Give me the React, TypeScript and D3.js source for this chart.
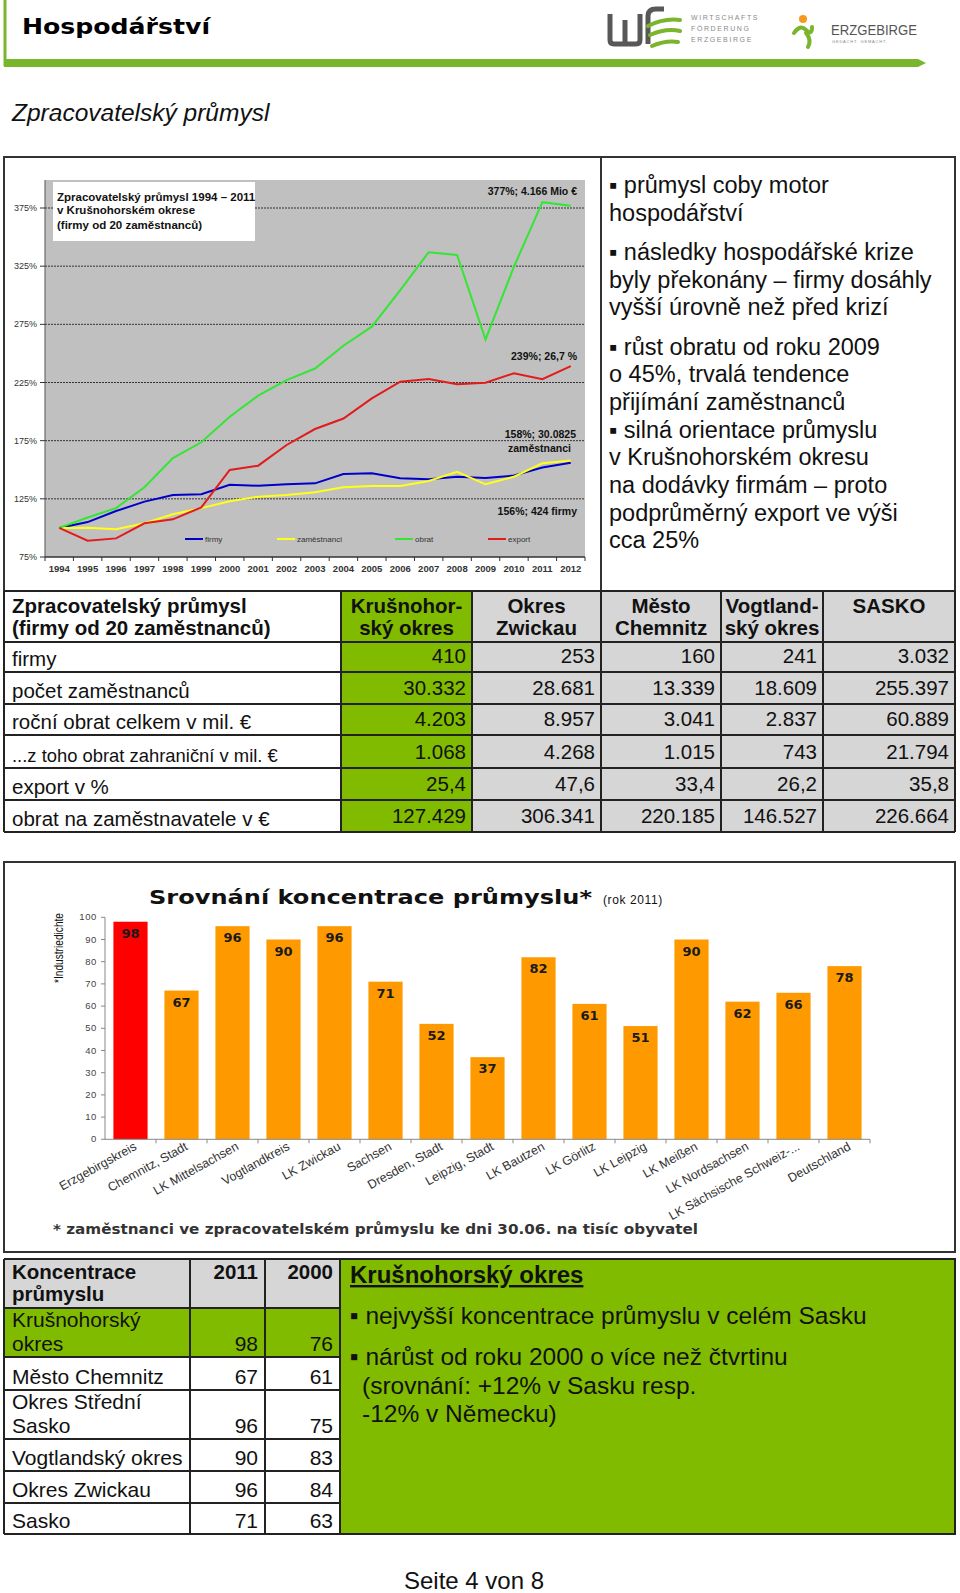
import * as d3 from "d3";
import React from "react";

// ---- line chart data (index 1994 = 100 %)
const years = ["1994", "1995", "1996", "1997", "1998", "1999", "2000", "2001", "2002", "2003", "2004", "2005", "2006", "2007", "2008", "2009", "2010", "2011", "2012"];
const firmy = [100, 105, 114.5, 122.6, 128.3, 129, 137, 136.3, 137.5, 138.3, 146.3, 147, 142.6, 141.8, 144, 143, 145, 152, 156];
const zamestnanci = [100, 100.2, 98.8, 104, 111.7, 117, 123, 126.8, 128.3, 130.6, 135, 136, 136, 140.3, 148.3, 137.5, 144, 155.5, 158];
const obrat = [100, 109, 117, 135, 160, 173.6, 195.6, 213.7, 227, 237, 256.6, 273, 304.5, 337, 334.6, 262, 324.5, 380, 377];
const exportPct = [100, 89, 91, 104, 107.4, 117.7, 149.8, 153.5, 171.3, 185, 194, 211.4, 225.7, 228, 223.5, 224.8, 233, 227.8, 239];
const lineTicks = [75, 125, 175, 225, 275, 325, 375];

// ---- table 1
const t1Header = [["Krušnohor-", "ský okres"], ["Okres", "Zwickau"], ["Město", "Chemnitz"], ["Vogtland-", "ský okres"], ["SASKO"]];
const t1Labels = ["firmy", "počet zaměstnanců", "roční obrat celkem v mil. €", "...z toho obrat zahraniční v mil. €", "export v %", "obrat na zaměstnavatele v €"];
const t1Values = [
  ["410", "253", "160", "241", "3.032"],
  ["30.332", "28.681", "13.339", "18.609", "255.397"],
  ["4.203", "8.957", "3.041", "2.837", "60.889"],
  ["1.068", "4.268", "1.015", "743", "21.794"],
  ["25,4", "47,6", "33,4", "26,2", "35,8"],
  ["127.429", "306.341", "220.185", "146.527", "226.664"],
];

// ---- bar chart
const regions = ["Erzgebirgskreis", "Chemnitz, Stadt", "LK Mittelsachsen", "Vogtlandkreis", "LK Zwickau", "Sachsen", "Dresden, Stadt", "Leipzig, Stadt", "LK Bautzen", "LK Görlitz", "LK Leipzig", "LK Meißen", "LK Nordsachsen", "LK Sächsische Schweiz-...", "Deutschland"];
const density = [98, 67, 96, 90, 96, 71, 52, 37, 82, 61, 51, 90, 62, 66, 78];
const barTicks = [0, 10, 20, 30, 40, 50, 60, 70, 80, 90, 100];

// ---- table 2
const t2Labels = [["Krušnohorský", "okres"], ["Město Chemnitz"], ["Okres Střední", "Sasko"], ["Vogtlandský okres"], ["Okres Zwickau"], ["Sasko"]];
const t2v2011 = [98, 67, 96, 90, 96, 71];
const t2v2000 = [76, 61, 75, 83, 84, 63];

const sans = "'Liberation Sans', Arial, sans-serif";
const bold = "'DejaVu Sans', Verdana, sans-serif";
const GREEN = "#80bb00";
const GRAY = "#d6d6d6";

function Header() {
  return (
    <g>
      <line x1={5} x2={5} y1={0} y2={66} stroke="#78b62b" strokeWidth={3} />
      <text x={22} y={34} fontFamily={bold} fontWeight="bold" fontSize={22} textLength={188} lengthAdjust="spacingAndGlyphs">Hospodářství</text>
      <polygon points="4,59 918,59 926,63 918,67 4,67" fill="#78b62b" />
      {/* wfe logo */}
      <path d="M610,14 V40 Q610,44 614,44 H636 Q640,44 640,40 V14 M625,20 V44" fill="none" stroke="#585858" strokeWidth={5} />
      <path d="M648,44 V16 Q648,9 656,9 H664" fill="none" stroke="#585858" strokeWidth={5} />
      <path d="M648,26 Q664,18 680,20 M650,35 Q666,28 680,31 M652,46 Q666,40 678,42" fill="none" stroke="#7ab52b" strokeWidth={4} strokeLinecap="round" />
      <g fontFamily={sans} fontSize={7} fill="#8a8a8a" letterSpacing={1.6}>
        <text x={691} y={20}>WIRTSCHAFTS</text>
        <text x={691} y={31}>FÖRDERUNG</text>
        <text x={691} y={42}>ERZGEBIRGE</text>
      </g>
      {/* Erzgebirge logo */}
      <circle cx={803} cy={19} r={4} fill="#f39a1f" />
      <path d="M794,33 Q800,24 806,30 Q812,36 812,27 M806,33 Q812,40 808,47" fill="none" stroke="#7ab52b" strokeWidth={4} strokeLinecap="round" />
      <text x={831} y={35} fontFamily={sans} fontSize={14} fill="#555" textLength={86} lengthAdjust="spacingAndGlyphs">ERZGEBIRGE</text>
      <text x={832} y={43} fontFamily={sans} fontSize={4} fill="#888" letterSpacing={0.8}>GEDACHT. GEMACHT.</text>
      <text x={12} y={121} fontFamily={sans} fontStyle="italic" fontSize={24.5} fill="#111">Zpracovatelský průmysl</text>
    </g>
  );
}

function LineChart() {
  const x = d3.scaleBand().domain(years).range([45, 585]);
  const y = d3.scaleLinear().domain([75, 375]).range([557, 208]);
  const cx = (yr: string) => (x(yr) || 0) + x.bandwidth() / 2;
  const line = d3.line<number>().x((_, i) => cx(years[i])).y((d) => y(d));
  const series = [
    { name: "firmy", data: firmy, color: "#0000c8" },
    { name: "zaměstnanci", data: zamestnanci, color: "#ffff1a" },
    { name: "obrat", data: obrat, color: "#33e633" },
    { name: "export", data: exportPct, color: "#e21b1b" },
  ];
  const legendX = [185, 277, 395, 488];
  return (
    <g>
      <rect x={45} y={180} width={540} height={377} fill="#c0c0c0" />
      {lineTicks.slice(1).map((t) => (
        <line key={t} x1={45} x2={585} y1={y(t)} y2={y(t)} stroke="#333" strokeDasharray="2,1" />
      ))}
      <line x1={45} x2={45} y1={180} y2={557} stroke="#555" />
      <line x1={45} x2={585} y1={557} y2={557} stroke="#333" strokeWidth={1.5} />
      {lineTicks.map((t) => (
        <g key={t}>
          <line x1={40} x2={45} y1={y(t)} y2={y(t)} stroke="#333" />
          <text x={37} y={y(t) + 3} textAnchor="end" fontFamily={sans} fontSize={9} fill="#333">{t}%</text>
        </g>
      ))}
      {years.map((yr) => (
        <g key={yr}>
          <line x1={x(yr) || 0} x2={x(yr) || 0} y1={557} y2={561} stroke="#333" />
          <text x={cx(yr)} y={572} textAnchor="middle" fontFamily={sans} fontSize={9.5} fontWeight="bold" fill="#333">{yr}</text>
        </g>
      ))}
      <line x1={585} x2={585} y1={557} y2={561} stroke="#333" />
      {series.map((s) => (
        <path key={s.name} d={line(s.data) || ""} fill="none" stroke={s.color} strokeWidth={2} />
      ))}
      {series.map((s, i) => (
        <g key={s.name}>
          <line x1={legendX[i]} x2={legendX[i] + 18} y1={539} y2={539} stroke={s.color} strokeWidth={2} />
          <text x={legendX[i] + 20} y={542} fontFamily={sans} fontSize={8} fill="#333">{s.name}</text>
        </g>
      ))}
      <rect x={53} y={182} width={202} height={59} fill="#fff" />
      <g fontFamily={sans} fontWeight="bold" fontSize={11.5} fill="#111">
        <text x={57} y={201}>Zpracovatelský průmysl 1994 – 2011</text>
        <text x={57} y={214}>v Krušnohorském okrese</text>
        <text x={57} y={229}>(firmy  od 20 zaměstnanců)</text>
      </g>
      <g fontFamily={sans} fontWeight="bold" fontSize={10.5} fill="#111" textAnchor="end">
        <text x={577} y={195}>377%;  4.166 Mio €</text>
        <text x={577} y={360}>239%;  26,7 %</text>
        <text x={576} y={438}>158%;  30.0825</text>
        <text x={571} y={452}>zaměstnanci</text>
        <text x={577} y={515}>156%;  424 firmy</text>
      </g>
    </g>
  );
}

const bullets = [
  "▪ průmysl coby motor", "hospodářství", null,
  "▪ následky hospodářské krize", "byly překonány – firmy dosáhly", "vyšší úrovně než před krizí", null,
  "▪ růst obratu od roku 2009", "o 45%, trvalá tendence", "přijímání zaměstnanců",
  "▪ silná orientace průmyslu", "v Krušnohorském okresu", "na dodávky firmám – proto",
  "podprůměrný export ve výši", "cca 25%",
];

function SideText() {
  let yy = 193;
  const out: React.ReactNode[] = [];
  bullets.forEach((b, i) => {
    if (b === null) { yy += 11.5; return; }
    out.push(<text key={i} x={609} y={yy} fontFamily={sans} fontSize={23.5} fill="#111">{b}</text>);
    yy += 27.7;
  });
  return <g>{out}</g>;
}

function Table1() {
  const cols = [4, 341, 472, 601, 721, 823, 955];
  const rows = [591, 642, 672, 704, 735, 768, 800, 832];
  return (
    <g fontFamily={sans} fill="#111">
      {cols.slice(1, -1).map((c, i) => (
        <rect key={i} x={c} y={rows[0]} width={cols[i + 2] - c} height={rows[7] - rows[0]} fill={i === 0 ? GREEN : GRAY} />
      ))}
      {rows.map((r) => <line key={r} x1={cols[0]} x2={cols[6]} y1={r} y2={r} stroke="#222" strokeWidth={2} />)}
      {cols.map((c) => <line key={c} x1={c} x2={c} y1={rows[0]} y2={rows[7]} stroke="#222" strokeWidth={2} />)}
      <text x={12} y={613} fontSize={20.5} fontWeight="bold">Zpracovatelský průmysl</text>
      <text x={12} y={635} fontSize={20.5} fontWeight="bold">(firmy od 20 zaměstnanců)</text>
      {t1Header.map((h, i) => h.map((s, j) => (
        <text key={`${i}-${j}`} x={(cols[i + 1] + cols[i + 2]) / 2} y={613 + j * 22} textAnchor="middle" fontSize={20.5} fontWeight="bold">{s}</text>
      )))}
      {t1Labels.map((l, i) => (
        <text key={l} x={12} y={rows[i + 2] - 6} fontSize={i === 3 ? 18.4 : 20.5}>{l}</text>
      ))}
      {t1Values.map((row, i) => row.map((v, j) => (
        <text key={`${i}-${j}`} x={cols[j + 2] - 6} y={rows[i + 2] - 9} textAnchor="end" fontSize={20.5}>{v}</text>
      )))}
    </g>
  );
}

function BarChart() {
  const x = d3.scaleBand().domain(regions).range([105, 870]).paddingInner(0.33).paddingOuter(0.165);
  const y = d3.scaleLinear().domain([0, 100]).range([1139.3, 917.3]);
  const step = x.step();
  return (
    <g>
      <rect x={4} y={862} width={951} height={390} fill="#fff" stroke="#333" strokeWidth={2} />
      <text x={149} y={904} fontFamily={bold} fontWeight="bold" fontSize={19.5} fill="#111" textLength={443} lengthAdjust="spacingAndGlyphs">Srovnání koncentrace průmyslu*</text>
      <text x={603} y={904} fontFamily={sans} fontSize={12} fill="#111" letterSpacing={0.6}>(rok 2011)</text>
      <text transform="translate(63,948) rotate(-90)" textAnchor="middle" fontFamily={sans} fontSize={12.5} fill="#111" textLength={70} lengthAdjust="spacingAndGlyphs">*Industriedichte</text>
      <line x1={105} x2={105} y1={y(100)} y2={y(0)} stroke="#888" />
      {barTicks.map((t) => (
        <g key={t}>
          <line x1={101} x2={105} y1={y(t)} y2={y(t)} stroke="#888" />
          <text x={97} y={y(t) + 3} textAnchor="end" fontFamily={sans} fontSize={9.5} fill="#444" letterSpacing={0.6}>{t}</text>
        </g>
      ))}
      {regions.map((r, i) => (
        <g key={r}>
          <rect x={x(r)} y={y(density[i])} width={x.bandwidth()} height={y(0) - y(density[i])} fill={i === 0 ? "#ff0000" : "#ff9900"} />
          <text x={(x(r) || 0) + x.bandwidth() / 2} y={y(density[i]) + 16} textAnchor="middle" fontFamily={bold} fontWeight="bold" fontSize={13} fill="#1a1a1a">{density[i]}</text>
        </g>
      ))}
      <line x1={105} x2={870} y1={y(0)} y2={y(0)} stroke="#888" />
      {regions.map((r, i) => (
        <line key={i} x1={105 + step * (i + 1)} x2={105 + step * (i + 1)} y1={y(0)} y2={y(0) + 4} stroke="#888" />
      ))}
      {regions.map((r) => {
        const px = (x(r) || 0) + x.bandwidth() / 2 + 7;
        return (
          <text key={r} transform={`translate(${px},1149) rotate(-29)`} textAnchor="end" fontFamily={sans} fontSize={12.5} fill="#333">{r}</text>
        );
      })}
      <text x={53} y={1234} fontFamily={bold} fontWeight="bold" fontSize={13.5} fill="#333" textLength={645} lengthAdjust="spacingAndGlyphs">* zaměstnanci ve zpracovatelském průmyslu ke dni 30.06. na tisíc obyvatel</text>
    </g>
  );
}

function Table2() {
  const cols = [4, 190, 265, 340];
  const rows = [1259, 1308, 1357, 1390, 1439, 1471, 1503, 1534];
  return (
    <g fontFamily={sans} fill="#111">
      <rect x={cols[0]} y={rows[0]} width={cols[3] - cols[0]} height={rows[1] - rows[0]} fill={GRAY} />
      <rect x={cols[0]} y={rows[1]} width={cols[3] - cols[0]} height={rows[2] - rows[1]} fill={GREEN} />
      <rect x={340} y={rows[0]} width={615} height={rows[7] - rows[0]} fill={GREEN} />
      {rows.map((r) => <line key={r} x1={cols[0]} x2={cols[3]} y1={r} y2={r} stroke="#222" strokeWidth={2} />)}
      {cols.map((c) => <line key={c} x1={c} x2={c} y1={rows[0]} y2={rows[7]} stroke="#222" strokeWidth={2} />)}
      <rect x={340} y={rows[0]} width={615} height={rows[7] - rows[0]} fill="none" stroke="#222" strokeWidth={2} />
      <text x={12} y={1279} fontSize={20.5} fontWeight="bold">Koncentrace</text>
      <text x={12} y={1301} fontSize={20.5} fontWeight="bold">průmyslu</text>
      <text x={258} y={1279} fontSize={20.5} fontWeight="bold" textAnchor="end">2011</text>
      <text x={333} y={1279} fontSize={20.5} fontWeight="bold" textAnchor="end">2000</text>
      {t2Labels.map((ls, i) => (
        <g key={i}>
          {ls.map((l, j) => (
            <text key={l} x={12} y={rows[i + 2] - 6 - (ls.length - 1 - j) * 24} fontSize={21}>{l}</text>
          ))}
          <text x={258} y={rows[i + 2] - 6} fontSize={21} textAnchor="end">{t2v2011[i]}</text>
          <text x={333} y={rows[i + 2] - 6} fontSize={21} textAnchor="end">{t2v2000[i]}</text>
        </g>
      ))}
      <text x={350} y={1283} fontSize={24} fontWeight="bold" textDecoration="underline">Krušnohorský okres</text>
      <text x={350} y={1324} fontSize={24.5}>▪ nejvyšší koncentrace průmyslu v celém Sasku</text>
      <text x={350} y={1365} fontSize={24.5}>▪ nárůst od roku 2000 o více než čtvrtinu</text>
      <text x={362} y={1394} fontSize={24.5}>(srovnání: +12% v Sasku resp.</text>
      <text x={362} y={1422} fontSize={24.5}>-12% v Německu)</text>
      <text x={474} y={1589} fontSize={24} textAnchor="middle">Seite 4 von 8</text>
    </g>
  );
}

export default function App() {
  return (
    <svg width={960} height={1593} style={{ position: "absolute", left: 0, top: 0, background: "#fff" }}>
      <rect width={960} height={1593} fill="#fff" />
      <Header />
      <rect x={4} y={157} width={951} height={434} fill="#fff" stroke="#333" strokeWidth={2} />
      <line x1={601} x2={601} y1={157} y2={591} stroke="#333" strokeWidth={2} />
      <LineChart />
      <SideText />
      <Table1 />
      <BarChart />
      <Table2 />
    </svg>
  );
}
